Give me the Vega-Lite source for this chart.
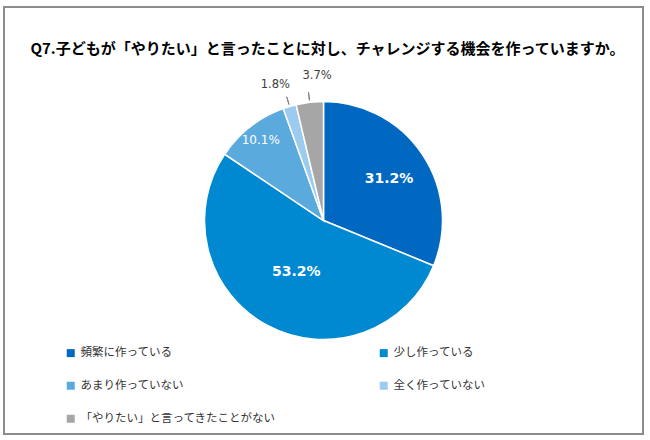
{
  "$schema": "https://vega.github.io/schema/vega-lite/v6.json",
  "autosize": {"type": "none"},
  "width": 639,
  "height": 427,
  "padding": {"left": 4, "top": 7, "right": 7, "bottom": 6},
  "background": "white",
  "view": {"stroke": "#8c8c8c", "strokeWidth": 2, "fill": "white"},
  "title": {
    "text": "Q7.子どもが「やりたい」と言ったことに対し、チャレンジする機会を作っていますか。",
    "font": "Noto Sans CJK JP",
    "fontSize": 15,
    "fontWeight": "bold",
    "color": "#000000",
    "anchor": "middle",
    "offset": -50,
    "dx": 4
  },
  "config": {
    "view": {"stroke": "#8c8c8c", "strokeWidth": 2},
    "font": "Noto Sans CJK JP"
  },
  "data": {
    "values": [
      {"rank": 1, "answer": "頻繁に作っている", "value": 31.2, "label": "31.2%"},
      {"rank": 2, "answer": "少し作っている", "value": 53.2, "label": "53.2%"},
      {"rank": 3, "answer": "あまり作っていない", "value": 10.1, "label": "10.1%"},
      {"rank": 4, "answer": "全く作っていない", "value": 1.8, "label": "1.8%"},
      {"rank": 5, "answer": "「やりたい」と言ってきたことがない", "value": 3.7, "label": "3.7%"}
    ]
  },
  "encoding": {
    "theta": {"field": "value", "type": "quantitative", "stack": true},
    "order": {"field": "rank", "type": "quantitative"}
  },
  "layer": [
    {
      "mark": {"type": "arc", "outerRadius": 119, "stroke": "white", "strokeWidth": 1.5},
      "encoding": {
        "color": {
          "field": "answer",
          "type": "nominal",
          "sort": ["頻繁に作っている", "少し作っている", "あまり作っていない", "全く作っていない", "「やりたい」と言ってきたことがない"],
          "scale": {
            "domain": ["頻繁に作っている", "少し作っている", "あまり作っていない", "全く作っていない", "「やりたい」と言ってきたことがない"],
            "range": ["#0068c0", "#0089d1", "#5aaade", "#9bcbee", "#a6a6a6"]
          },
          "legend": {
            "title": null,
            "orient": "none",
            "direction": "horizontal",
            "legendX": 61,
            "legendY": 340,
            "columns": 2,
            "columnPadding": 102,
            "rowPadding": 20,
            "symbolType": "square",
            "symbolSize": 64,
            "symbolStrokeWidth": 0,
            "labelFont": "Noto Sans CJK JP",
            "labelFontSize": 11.5,
            "labelColor": "#333333",
            "labelOffset": 4,
            "labelLimit": 400
          }
        }
      }
    },
    {
      "mark": {"type": "arc", "innerRadius": 121, "outerRadius": 129, "padAngle": 1.5, "fill": "transparent", "stroke": "#7f7f7f", "strokeWidth": 1},
      "encoding": {
        "strokeOpacity": {"condition": {"test": "datum.value < 5", "value": 1}, "value": 0}
      }
    },
    {
      "mark": {"type": "text", "radius": 74, "fontSize": 14, "fontWeight": "bold", "color": "white", "font": "DejaVu Sans", "dx": 4},
      "encoding": {
        "text": {"condition": {"test": "datum.value > 20 && datum.value < 50", "field": "label"}, "value": ""}
      }
    },
    {
      "mark": {"type": "text", "radius": 58, "fontSize": 14, "fontWeight": "bold", "color": "white", "font": "DejaVu Sans"},
      "encoding": {
        "text": {"condition": {"test": "datum.value > 50", "field": "label"}, "value": ""}
      }
    },
    {
      "mark": {"type": "text", "radius": 102, "fontSize": 12, "color": "white", "font": "DejaVu Sans"},
      "encoding": {
        "text": {"condition": {"test": "datum.value > 5 && datum.value < 20", "field": "label"}, "value": ""}
      }
    },
    {
      "mark": {"type": "text", "radius": 141, "fontSize": 11.5, "color": "#404040", "font": "DejaVu Sans", "dx": -8},
      "encoding": {
        "text": {"condition": {"test": "datum.value < 3", "field": "label"}, "value": ""}
      }
    },
    {
      "mark": {"type": "text", "radius": 141, "fontSize": 11.5, "color": "#404040", "font": "DejaVu Sans", "dx": 10, "dy": -4},
      "encoding": {
        "text": {"condition": {"test": "datum.value > 3 && datum.value < 5", "field": "label"}, "value": ""}
      }
    }
  ]
}
